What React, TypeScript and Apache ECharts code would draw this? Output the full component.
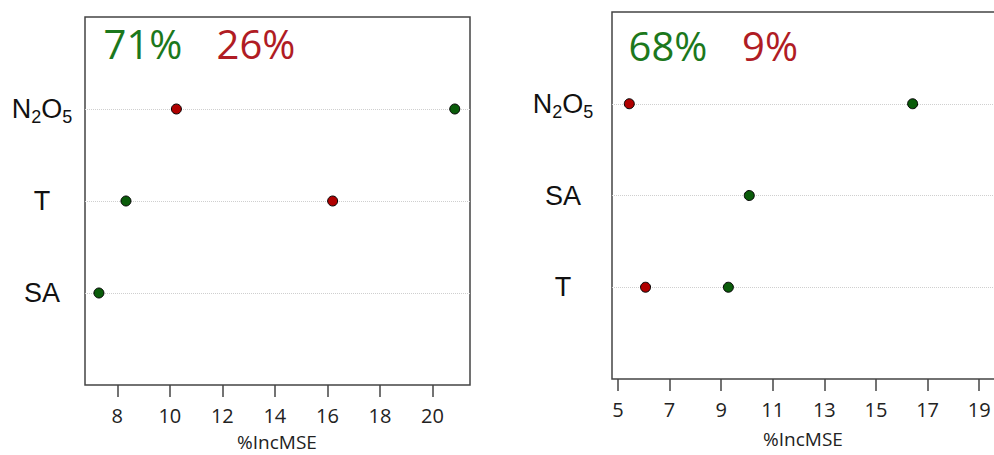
import React, { useEffect, useRef } from "react";
import * as echarts from "echarts";

// Left panel (bottom to top)
const leftCategories = ["SA", "T", "N2O5"];
const leftGreen = [7.3, 8.33, 20.85];
const leftRed: (number | null)[] = [null, 16.2, 10.25];
const leftTicks = [8, 10, 12, 14, 16, 18, 20];
const leftPercents = ["71%", "26%"];

// Right panel (bottom to top)
const rightCategories = ["T", "SA", "N2O5"];
const rightGreen = [9.28, 10.09, 16.42];
const rightRed: (number | null)[] = [6.07, null, 5.44];
const rightTicks = [5, 7, 9, 11, 13, 15, 17, 19];
const rightPercents = ["68%", "9%"];

const axisTitle = "%IncMSE";

const GREEN_DOT = "#0a5c0a";
const RED_DOT = "#b00000";
const GREEN_TXT = "#1c781c";
const RED_TXT = "#b01c24";

function toPairs(vals: (number | null)[], cats: string[]) {
  const out: [number, string][] = [];
  vals.forEach((v, i) => {
    if (v !== null) out.push([v, cats[i]]);
  });
  return out;
}

function catLabel(v: string) {
  if (v === "N2O5") return "{n|N}{s|2}{n|O}{s|5}";
  return v === "" ? "" : "{n|" + v + "}";
}

const richStyles = {
  n: { fontFamily: "Liberation Sans", fontSize: 27, color: "#111", lineHeight: 30 },
  s: { fontFamily: "Liberation Sans", fontSize: 18, color: "#111", lineHeight: 30, padding: [16, 0, 0, 0] },
};

function makeY(gridIndex: number, cats: string[], margin: number) {
  return {
    type: "category",
    gridIndex,
    data: ["", ...cats, ""],
    boundaryGap: false,
    axisLine: { show: false },
    axisTick: { show: false },
    axisLabel: {
      interval: 0,
      margin,
      align: "center",
      formatter: catLabel,
      rich: richStyles,
    },
    splitLine: {
      show: true,
      interval: (_i: number, v: string) => v !== "",
      lineStyle: { type: "dotted", color: "#cfcfcf", width: 1 },
    },
  };
}

function makeX(gridIndex: number, min: number, max: number, ticks: number[]) {
  return {
    type: "value",
    gridIndex,
    min,
    max,
    axisLine: { show: false },
    splitLine: { show: false },
    axisTick: {
      show: true,
      customValues: ticks,
      length: 12,
      lineStyle: { color: "#444", width: 1.5 },
    },
    axisLabel: {
      customValues: ticks,
      margin: 20,
      fontFamily: "Open Sans",
      fontSize: 20,
      lineHeight: 20,
      color: "#222",
    },
  };
}

const dotStyle = (c: string) => ({ color: c, borderColor: "#000", borderWidth: 1, opacity: 1 });

export default function App() {
  const ref = useRef<HTMLDivElement>(null);
  useEffect(() => {
    if (!ref.current) return;
    const chart = echarts.init(ref.current, undefined, { renderer: "svg" });
    const txt = (t: string, x: number, y: number, fill: string, size: number) => ({
      type: "text",
      x,
      y,
      style: {
        text: t,
        fontFamily: "Open Sans",
        fontSize: size,
        lineHeight: size,
        fill,
        align: "center",
        verticalAlign: "middle",
      },
    });
    chart.setOption({
      animation: false,
      backgroundColor: "#fff",
      grid: [
        { left: 85, top: 17, width: 385, height: 368, show: true, borderColor: "#444", borderWidth: 1.5, backgroundColor: "transparent", outerBoundsMode: "none" },
        { left: 612, top: 12, width: 473, height: 367, show: true, borderColor: "#444", borderWidth: 1.5, backgroundColor: "transparent", outerBoundsMode: "none" },
      ],
      xAxis: [
        makeX(0, 6.77, 21.43, leftTicks),
        makeX(1, 4.77, 23.1, rightTicks),
      ],
      yAxis: [makeY(0, leftCategories, 43), makeY(1, rightCategories, 49)],
      series: [
        { type: "scatter", xAxisIndex: 0, yAxisIndex: 0, symbolSize: 10, itemStyle: dotStyle(GREEN_DOT), data: toPairs(leftGreen, leftCategories) },
        { type: "scatter", xAxisIndex: 0, yAxisIndex: 0, symbolSize: 10, itemStyle: dotStyle(RED_DOT), data: toPairs(leftRed, leftCategories) },
        { type: "scatter", xAxisIndex: 1, yAxisIndex: 1, symbolSize: 10, itemStyle: dotStyle(GREEN_DOT), data: toPairs(rightGreen, rightCategories) },
        { type: "scatter", xAxisIndex: 1, yAxisIndex: 1, symbolSize: 10, itemStyle: dotStyle(RED_DOT), data: toPairs(rightRed, rightCategories) },
      ],
      graphic: [
        txt(leftPercents[0], 143, 43, GREEN_TXT, 40),
        txt(leftPercents[1], 256, 43, RED_TXT, 40),
        txt(rightPercents[0], 668, 45, GREEN_TXT, 40),
        txt(rightPercents[1], 770, 45, RED_TXT, 40),
        txt(axisTitle, 277, 442, "#222", 19),
        txt(axisTitle, 803, 439, "#222", 19),
      ],
    });
    return () => chart.dispose();
  }, []);
  return (
    <div
      ref={ref}
      style={{ position: "fixed", left: 0, top: 0, width: 994, height: 455 }}
    />
  );
}
